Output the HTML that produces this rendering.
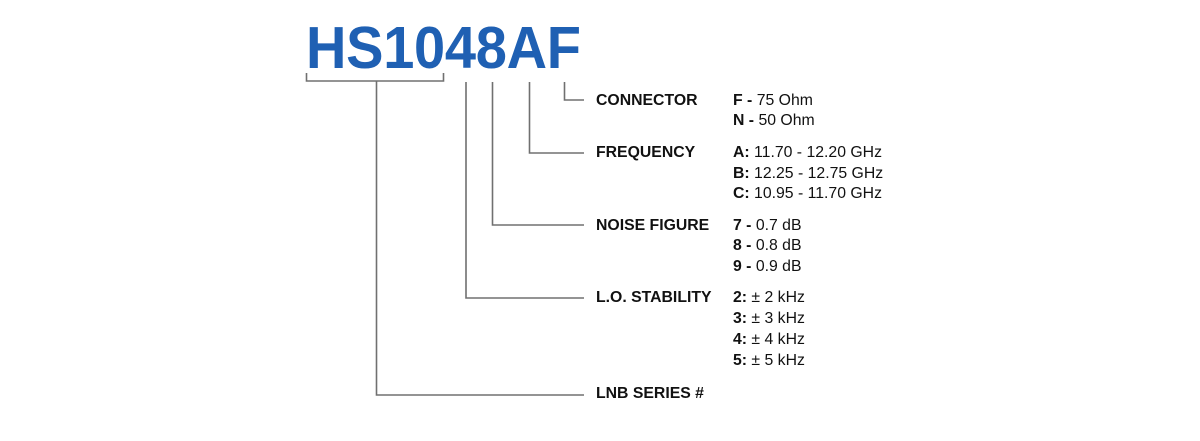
<!DOCTYPE html>
<html><head><meta charset="utf-8"><style>
html,body{margin:0;padding:0;background:#fff;}
body{width:1200px;height:441px;position:relative;overflow:hidden;font-family:"Liberation Sans",Arial,sans-serif;color:#111;}
.t{position:absolute;font-size:15.8px;line-height:20px;white-space:nowrap;}
.l{font-weight:bold;left:596px;}
.v{left:733px;}
.v b{font-weight:bold;}
.title{position:absolute;left:306px;top:15px;font-size:56px;font-weight:bold;color:#1f60b3;line-height:70px;letter-spacing:-0.3px;transform:scaleY(1.06);transform-origin:50% 100%;}
</style></head><body>
<div class="title">HS1048AF</div>
<svg width="1200" height="441" style="position:absolute;left:0;top:0" fill="none" stroke="#707070" stroke-width="1.6">
<polyline points="306.5,73 306.5,81 443.5,81 443.5,73"/>
<polyline points="376.5,81 376.5,395 584,395"/>
<polyline points="466,82 466,298 584,298"/>
<polyline points="492.5,82 492.5,225 584,225"/>
<polyline points="529.5,82 529.5,153 584,153"/>
<polyline points="564.5,82 564.5,100 584,100"/>
</svg>
<div class="t l" style="top:91px">CONNECTOR</div>
<div class="t v" style="top:91px"><b>F -</b> 75 Ohm</div>
<div class="t v" style="top:111px"><b>N -</b> 50 Ohm</div>
<div class="t l" style="top:143px">FREQUENCY</div>
<div class="t v" style="top:143px"><b>A:</b> 11.70 - 12.20 GHz</div>
<div class="t v" style="top:164px"><b>B:</b> 12.25 - 12.75 GHz</div>
<div class="t v" style="top:184px"><b>C:</b> 10.95 - 11.70 GHz</div>
<div class="t l" style="top:216px">NOISE FIGURE</div>
<div class="t v" style="top:216px"><b>7 -</b> 0.7 dB</div>
<div class="t v" style="top:236px"><b>8 -</b> 0.8 dB</div>
<div class="t v" style="top:257px"><b>9 -</b> 0.9 dB</div>
<div class="t l" style="top:288px">L.O. STABILITY</div>
<div class="t v" style="top:288px"><b>2:</b> ± 2 kHz</div>
<div class="t v" style="top:309px"><b>3:</b> ± 3 kHz</div>
<div class="t v" style="top:330px"><b>4:</b> ± 4 kHz</div>
<div class="t v" style="top:351px"><b>5:</b> ± 5 kHz</div>
<div class="t l" style="top:384px">LNB SERIES #</div>
</body></html>
